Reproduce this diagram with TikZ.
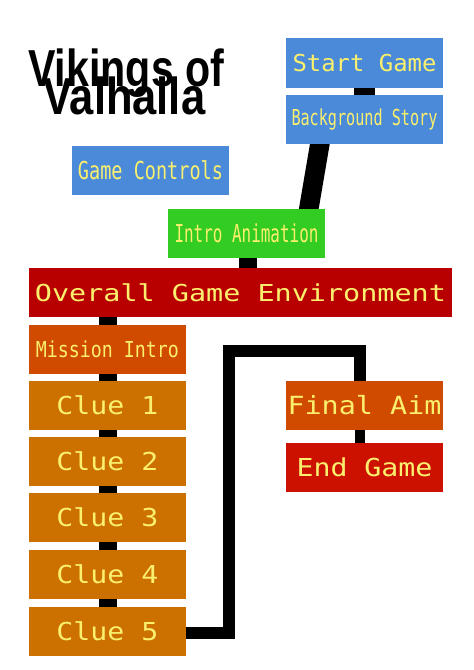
\documentclass[tikz,border=0pt]{standalone}
\usepackage{fontspec}
\usepackage{graphicx}
\usetikzlibrary{backgrounds,calc}
\newfontfamily\boxfont{DejaVu Sans Mono}
\newfontfamily\titlefont{Liberation Sans}
\definecolor{cblue}{RGB}{74,138,216}
\definecolor{cgreen}{RGB}{51,204,34}
\definecolor{cdred}{RGB}{184,0,0}
\definecolor{cored}{RGB}{208,74,0}
\definecolor{cclue}{RGB}{204,112,0}
\definecolor{cend}{RGB}{204,17,0}
\definecolor{ctxt}{RGB}{250,240,110}
\newcommand\fitt[3]{\fontsize{#1bp}{#1bp}\selectfont\resizebox{#2bp}{\height}{#3}}
\tikzset{
  box/.style={rectangle, inner sep=0pt, minimum width=157bp, minimum height=49bp, text=ctxt, font=\boxfont},
  conn/.style={draw=black, line cap=butt, line join=miter},
  ttl/.style={anchor=base west, inner sep=0pt, font=\titlefont\bfseries}
}
\begin{document}
\begin{tikzpicture}[x=1bp,y=-1bp]
\useasboundingbox (0,0) rectangle (474,670);
% title
\node[ttl] (t1) at (28,87) {\fontsize{52bp}{52bp}\selectfont\resizebox{196bp}{\height}{Vikings of}};
\node[ttl] (t2) at (43,115) {\fontsize{52bp}{52bp}\selectfont\resizebox{162bp}{\height}{Valhalla}};
% boxes
\node[box, fill=cblue, minimum height=50bp] (start) at (364.5,63) {\fitt{23.3}{144}{Start Game}};
\node[box, fill=cblue] (bg) at (364.5,119.5) {\fitt{22}{146}{Background Story}};
\node[box, fill=cblue] (ctrl) at (150.5,170.5) {\fitt{24.7}{145}{Game Controls}};
\node[box, fill=cgreen] (intro) at (246.5,233.5) {\fitt{24.7}{144}{Intro Animation}};
\node[box, fill=cdred, minimum width=423bp] (overall) at (240.5,292.5) {\fitt{23.3}{411}{Overall Game Environment}};
\node[box, fill=cored] (mission) at (107.5,349.5) {\fitt{22}{143}{Mission Intro}};
\node[box, fill=cclue] (clue1) at (107.5,405.5) {\fitt{24.7}{102}{Clue 1}};
\node[box, fill=cclue] (clue2) at (107.5,461.5) {\fitt{24.7}{102}{Clue 2}};
\node[box, fill=cclue] (clue3) at (107.5,517.5) {\fitt{24.7}{102}{Clue 3}};
\node[box, fill=cclue] (clue4) at (107.5,574.5) {\fitt{24.7}{102}{Clue 4}};
\node[box, fill=cclue] (clue5) at (107.5,631.5) {\fitt{24.7}{102}{Clue 5}};
\node[box, fill=cored] (final) at (364.5,405.5) {\fitt{25}{154}{Final Aim}};
\node[box, fill=cend] (endg) at (364.5,467.5) {\fitt{24.7}{136}{End Game}};
% connectors
\begin{pgfonlayer}{background}
\draw[conn, line width=21bp] (start) -- (bg);
\draw[conn, line width=19.5bp, shorten <=-6bp, shorten >=-6bp]
  ($(bg.south west)+(34,0)$) -- ($(intro.north west)+(141,0)$);
\draw[conn, line width=18bp] ([xshift=1.5bp]intro.center) -- ([xshift=1.5bp]intro.center |- overall.center);
\draw[conn, line width=18bp] (mission.center |- overall.center) -- (mission) -- (clue1) -- (clue2) -- (clue3) -- (clue4) -- (clue5);
\draw[conn, line width=10bp] ([xshift=-4.5bp]final.center) -- ([xshift=-4.5bp]final.center |- endg.center);
\coordinate (bend) at (229,351);
\draw[conn, line width=12bp] ([yshift=-1bp]clue5.center) -| (bend) -| ([xshift=-4.5bp]final.center);
\end{pgfonlayer}
\end{tikzpicture}
\end{document}
